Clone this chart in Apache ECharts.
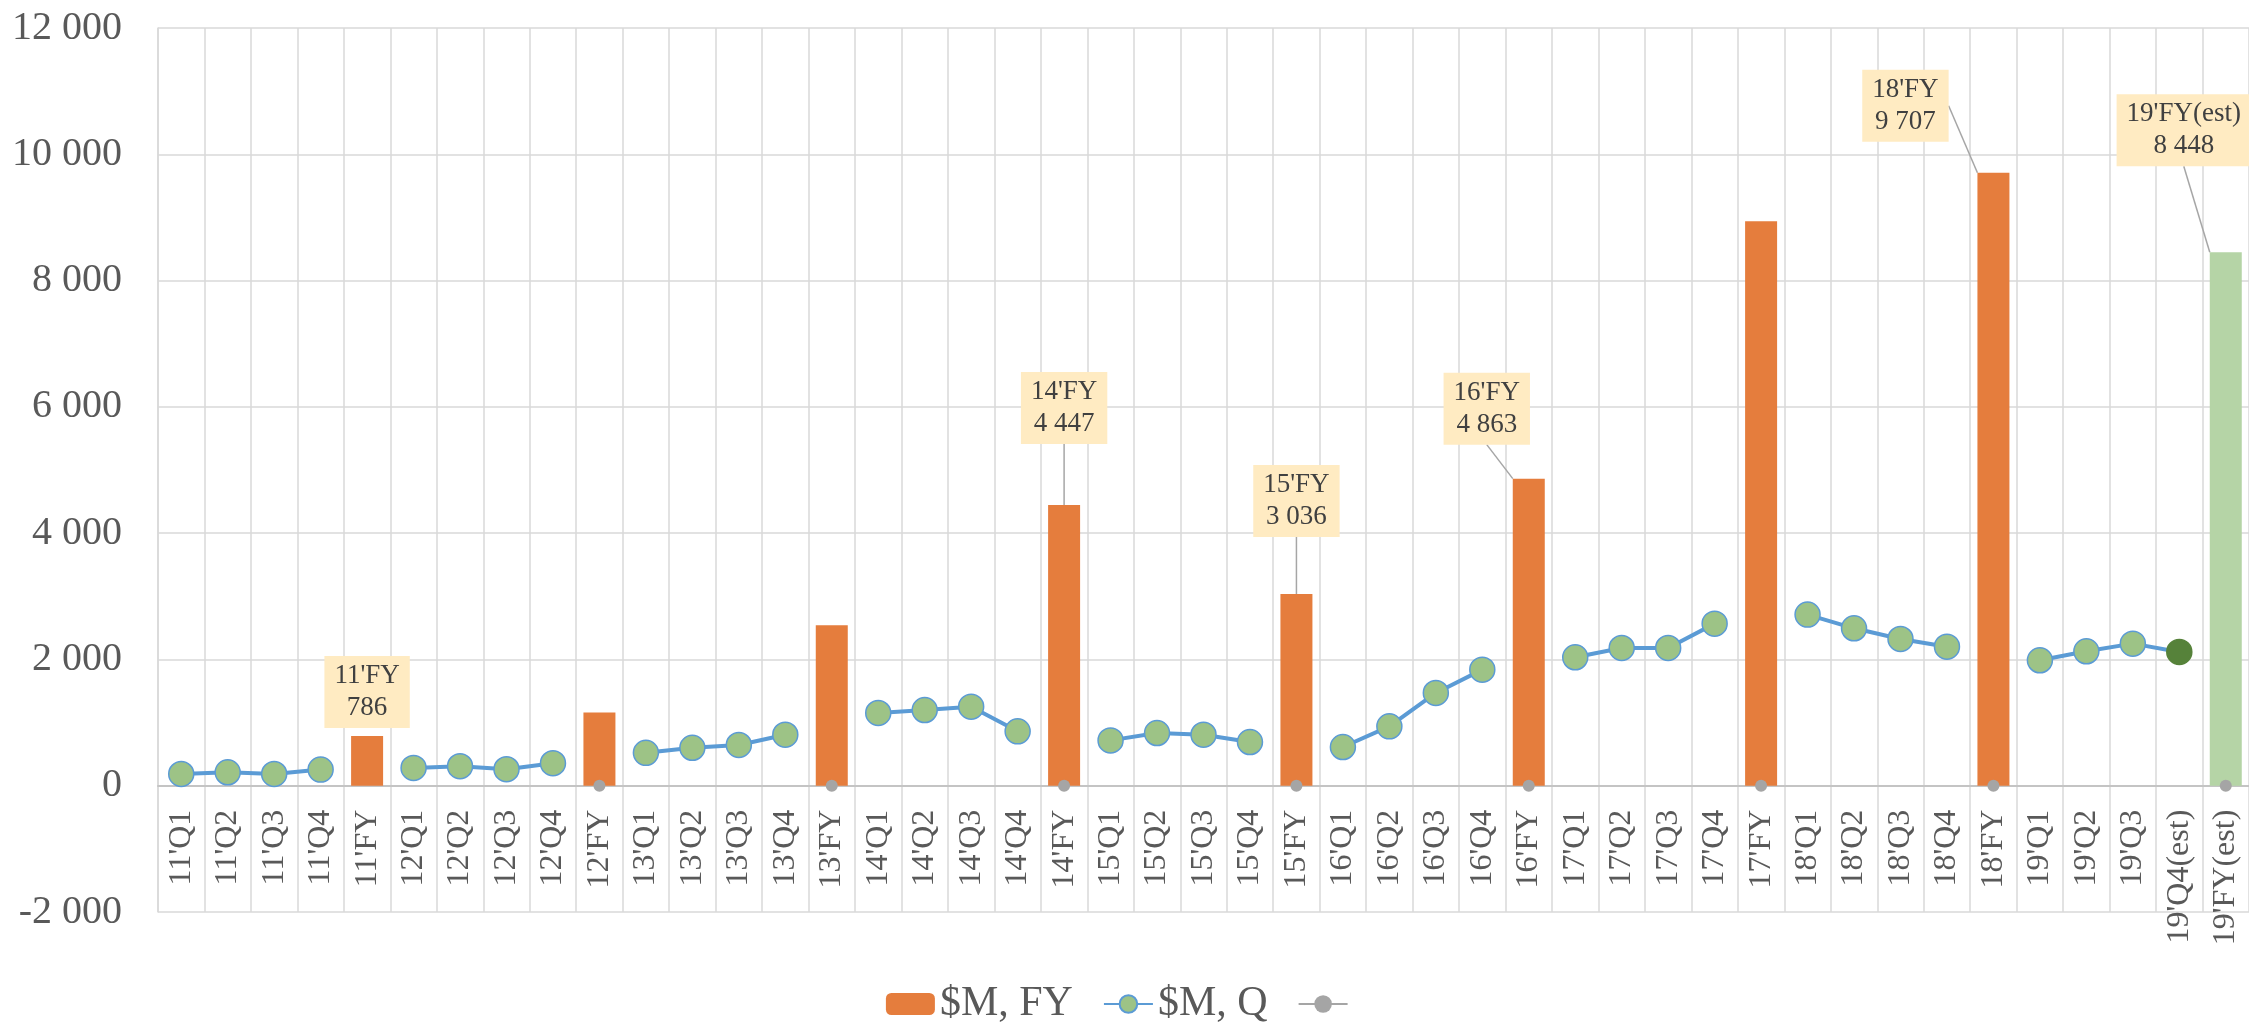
<!DOCTYPE html>
<html>
<head>
<meta charset="utf-8">
<script src="https://cdn.jsdelivr.net/npm/echarts@6/dist/echarts.min.js"></script>
<style>
html, body { margin: 0; padding: 0; background: #fff; }
#main { width: 2249px; height: 1025px; }
</style>
</head>
<body>
<div id="main"></div>
<script>
const categories = [
    "11'Q1", "11'Q2", "11'Q3", "11'Q4", "11'FY",
    "12'Q1", "12'Q2", "12'Q3", "12'Q4", "12'FY",
    "13'Q1", "13'Q2", "13'Q3", "13'Q4", "13'FY",
    "14'Q1", "14'Q2", "14'Q3", "14'Q4", "14'FY",
    "15'Q1", "15'Q2", "15'Q3", "15'Q4", "15'FY",
    "16'Q1", "16'Q2", "16'Q3", "16'Q4", "16'FY",
    "17'Q1", "17'Q2", "17'Q3", "17'Q4", "17'FY",
    "18'Q1", "18'Q2", "18'Q3", "18'Q4", "18'FY",
    "19'Q1", "19'Q2", "19'Q3", "19'Q4(est)", "19'FY(est)"
];
// $M, FY (bars)
const fyValues = [
    null, null, null, null, 786,
    null, null, null, null, 1160,
    null, null, null, null, 2540,
    null, null, null, null, 4447,
    null, null, null, null, 3036,
    null, null, null, null, 4863,
    null, null, null, null, 8940,
    null, null, null, null, 9707,
    null, null, null, null, 8448
];
// $M, Q (line)
const qValues = [
    186, 213, 186, 255, null,
    282, 309, 261, 356, null,
    521, 601, 645, 808, null,
    1152, 1199, 1252, 861, null,
    718, 834, 808, 692, null,
    613, 940, 1469, 1838, null,
    2034, 2182, 2182, 2567, null,
    2710, 2493, 2324, 2202, null,
    1986, 2129, 2250, 2118, null
];
// grey markers at zero
const zeroMarks = [
    null, null, null, null, null,
    null, null, null, null, 0,
    null, null, null, null, 0,
    null, null, null, null, 0,
    null, null, null, null, 0,
    null, null, null, null, 0,
    null, null, null, null, 0,
    null, null, null, null, 0,
    null, null, null, null, 0
];
const yTicks = [-2000, 0, 2000, 4000, 6000, 8000, 10000, 12000];

const labeledBars = ["11'FY", "14'FY", "15'FY", "16'FY", "18'FY", "19'FY(est)"];
// label moves (px) relative to the default "top" spot
const labelShift = {
    "14'FY": [0, -53],
    "15'FY": [0, -49],
    "16'FY": [-42, -26],
    "18'FY": [-88, -23],
    "19'FY(est)": [-42, -78]
};

const font = 'Liberation Serif';
const gridTop = 28, gridBottom = 113, chartH = 1025;
// the category axis sits on the zero line, one tick step above the bottom
const zeroOffset = (chartH - gridTop - gridBottom) / (yTicks.length - 1);

function fmt(v) {
    return String(v).replace(/\B(?=(\d{3})+(?!\d))/g, ' ');
}

const barData = fyValues.map(function (v, i) {
    if (v == null) return '-';
    const name = categories[i];
    const item = { value: v };
    if (name.indexOf('(est)') >= 0) item.itemStyle = { color: '#B5D4A6' };
    if (labeledBars.indexOf(name) >= 0) {
        item.label = { show: true };
        if (labelShift[name]) item.labelLine = { show: true };
    }
    return item;
});

const lineData = qValues.map(function (v, i) {
    if (v == null) return '-';
    if (categories[i].indexOf('(est)') >= 0) {
        return { value: v, itemStyle: { color: '#56823A', borderColor: '#56823A' } };
    }
    return v;
});

const zeroData = zeroMarks.map(function (v) { return v == null ? '-' : v; });

let myChart = echarts.init(document.getElementById('main'));
const option = {
    animation: false,
    backgroundColor: '#fff',
    grid: {
        left: 158,
        right: 0,
        top: gridTop,
        bottom: gridBottom,
        outerBoundsMode: 'none'
    },
    legend: {
        top: 978,
        left: 'center',
        itemWidth: 49,
        itemHeight: 22,
        itemGap: 30,
        textStyle: { fontFamily: font, fontSize: 42, color: '#595959' },
        data: ['$M, FY', '$M, Q', ' ']
    },
    xAxis: {
        type: 'category',
        data: categories,
        boundaryGap: true,
        offset: -zeroOffset,
        axisLine: { onZero: false, lineStyle: { color: '#C4C4C4', width: 2 } },
        axisTick: { show: false },
        splitLine: { show: true, interval: 0, lineStyle: { color: '#D9D9D9', width: 1.5 } },
        axisLabel: {
            interval: 0,
            rotate: 90,
            margin: 24,
            fontFamily: font,
            fontSize: 32,
            color: '#595959'
        }
    },
    yAxis: {
        type: 'value',
        min: yTicks[0],
        max: yTicks[yTicks.length - 1],
        interval: 2000,
        axisLine: { show: true, lineStyle: { color: '#D9D9D9', width: 1.5 } },
        axisTick: { show: false },
        splitLine: { lineStyle: { color: '#D9D9D9', width: 1.5 } },
        axisLabel: {
            margin: 36,
            fontFamily: font,
            fontSize: 40,
            color: '#595959',
            formatter: fmt
        }
    },
    series: [
        {
            name: '$M, FY',
            type: 'bar',
            barWidth: 32,
            itemStyle: { color: '#E57D3D' },
            label: {
                show: false,
                position: 'top',
                distance: 8,
                formatter: function (p) { return p.name + '\n' + fmt(p.value); },
                fontFamily: font,
                fontSize: 27,
                lineHeight: 32,
                color: '#404040',
                backgroundColor: '#FFEBC2',
                padding: [4, 10, 4, 10],
                align: 'center'
            },
            labelLine: {
                show: false,
                lineStyle: { color: '#A6A6A6', width: 1.5 }
            },
            labelLayout: function (p) {
                const s = labelShift[categories[p.dataIndex]];
                return s ? { dx: s[0], dy: s[1] } : {};
            },
            data: barData
        },
        {
            name: '$M, Q',
            type: 'line',
            symbol: 'circle',
            symbolSize: 25,
            lineStyle: { color: '#5B9BD5', width: 4 },
            itemStyle: { color: '#9DC386', borderColor: '#5B9BD5', borderWidth: 1.5 },
            data: lineData
        },
        {
            name: ' ',
            type: 'line',
            symbol: 'circle',
            symbolSize: 12,
            lineStyle: { color: '#A5A5A5', width: 4 },
            itemStyle: { color: '#A5A5A5' },
            z: 5,
            data: zeroData
        }
    ]
};
myChart.setOption(option);
</script>
</body>
</html>
